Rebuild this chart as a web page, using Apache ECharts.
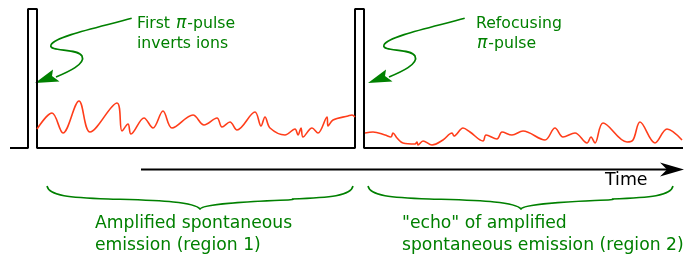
<!DOCTYPE html>
<html>
<head>
<meta charset="utf-8">
<script src="https://cdn.jsdelivr.net/npm/echarts@6/dist/echarts.min.js"></script>
<style>
  html, body { margin: 0; padding: 0; background: #fff; }
  #main { width: 699px; height: 257px; }
</style>
</head>
<body>
<div id="main"></div>
<script>
// x: time (arbitrary units), y: amplitude above the baseline
const pulseTrace = [[10,0],[28,0],[28,139],[37,139],[37,0],[355,0],[355,139],[364,139],[364,0],[683,0]];

const emission1 = [
  [37,19],[52,35],[63,15],[79,47],[90,16],[117,45],[122,17],[128,24],[131,14],[144,30],
  [153,20],[163,37],[172,20],[193,33],[204,23],[217,30],[222,21],[230,26],[237,18],[255,36],
  [261,22],[265,31],[270,20],[285,13],[295,19],[298,13],[301,20],[303,11],[312,20],[318,15],
  [327,31],[328,22],[333,28],[348,32],[352,33],[355,31]
];
const emission2 = [
  [365,15],[373,16],[385,13],[391,11],[393,15],[397,10],[403,5],[415,4],[417,6],[418,3],
  [423,7],[432,3],[443,8],[452,15],[454,12],[463,20],[470,16],[483,7],[486,13],[497,9],
  [502,16],[512,13],[523,17],[545,8],[555,20],[563,11],[575,15],[587,5],[591,11],[595,5],
  [603,25],[627,6],[633,8],[640,26],[655,5],[667,19],[682,8]
];

const timeShaft = [[141,-21.5],[672,-21.5]];
const timeHead = [[684,-21.5],[660,-14.5],[667,-21.5],[660,-28.5]];

// curly pointer: start point followed by cubic bezier triples
const pointerPath = [[131.7,129.7],[105,122],[55,112],[51,103],[48,96],[78,100],[82,92],[86,84],[68,76],[56,71]];
const pointerHead = [[35,65],[53,78.5],[52,72],[59.5,66.5]];
const pointerShift = [0, 333];

// braces: left end, tip, right end
const braces = [[47,200,353],[368,521,673]];
const braceLevels = [-38, -51, -61];

const topLabels = [
  [137, 124.5, 'First {i|π}-pulse'],
  [137, 104.5, 'inverts ions'],
  [476, 124.5, 'Refocusing'],
  [476, 104.5, '{i|π}-pulse']
];
const bottomLabels = [
  [95, -76, 'Amplified spontaneous'],
  [95, -98, 'emission (region 1)'],
  [402, -76, '"echo" of amplified'],
  [402, -98, 'spontaneous emission (region 2)']
];
const axisLabel = [[605, -32.5, 'Time']];

const GREEN = '#008000';
const RED = '#ff3d1a';
const FONT = '"DejaVu Sans", sans-serif';

const chart = echarts.init(document.getElementById('main'));

function textSeries(list, size, color) {
  return {
    type: 'custom',
    silent: true,
    data: list.map(l => [l[0], l[1]]),
    renderItem: function (params, api) {
      const p = api.coord([api.value(0), api.value(1)]);
      return {
        type: 'text',
        x: p[0], y: p[1],
        style: {
          text: list[params.dataIndex][2],
          fill: color,
          font: size + 'px ' + FONT,
          verticalAlign: 'middle',
          align: 'left',
          rich: { i: { fontStyle: 'italic', fontSize: size + 1.5, fontFamily: FONT, fill: color, padding: [0, 1, 0, 1] } }
        }
      };
    }
  };
}

chart.setOption({
  animation: false,
  grid: { left: 0, right: 0, top: 0, bottom: 0 },
  xAxis: { type: 'value', min: 0, max: 699, show: false },
  yAxis: { type: 'value', min: -109, max: 148, show: false },
  series: [
    {
      type: 'line', data: pulseTrace, showSymbol: false, silent: true,
      lineStyle: { color: '#000', width: 2 }
    },
    {
      type: 'line', data: emission1, showSymbol: false, silent: true, smooth: 0.35,
      lineStyle: { color: RED, width: 1.6 }
    },
    {
      type: 'line', data: emission2, showSymbol: false, silent: true, smooth: 0.35,
      lineStyle: { color: RED, width: 1.6 }
    },
    {
      type: 'line', data: timeShaft, showSymbol: false, silent: true,
      lineStyle: { color: '#000', width: 2 }
    },
    {
      type: 'custom', silent: true, data: [[0]],
      renderItem: function (params, api) {
        return {
          type: 'polygon',
          shape: { points: timeHead.map(p => api.coord(p)) },
          style: { fill: '#000' }
        };
      }
    },
    {
      type: 'custom', silent: true, data: pointerShift.map(s => [s]),
      renderItem: function (params, api) {
        const dx = api.value(0);
        const pts = pointerPath.map(p => api.coord([p[0] + dx, p[1]]));
        let d = 'M' + pts[0].join(',');
        for (let i = 1; i + 2 < pts.length; i += 3) {
          d += ' C' + [pts[i], pts[i + 1], pts[i + 2]].map(q => q.join(',')).join(' ');
        }
        return {
          type: 'group',
          children: [
            { type: 'path', shape: { pathData: d }, style: { stroke: GREEN, lineWidth: 1.7, fill: 'none' } },
            { type: 'polygon', shape: { points: pointerHead.map(p => api.coord([p[0] + dx, p[1]])) }, style: { fill: GREEN } }
          ]
        };
      }
    },
    {
      type: 'custom', silent: true, data: braces,
      renderItem: function (params, api) {
        const x0 = api.value(0), xm = api.value(1), x1 = api.value(2);
        const [yt, ym, yp] = braceLevels;
        const w = (xm - x0);
        const c = (x, y) => api.coord([x, y]).join(',');
        const d = 'M' + c(x0, yt) +
          ' C' + c(x0 + 2, ym + 3) + ' ' + c(x0 + w * 0.15, ym + 1.5) + ' ' + c(x0 + w * 0.4, ym) +
          ' C' + c(xm - w * 0.3, ym - 1.5) + ' ' + c(xm - 6, ym - 2) + ' ' + c(xm, yp) +
          ' C' + c(xm + 6, ym - 2) + ' ' + c(x1 - w * 0.3, ym - 1.5) + ' ' + c(x1 - w * 0.4, ym) +
          ' C' + c(x1 - w * 0.15, ym + 1.5) + ' ' + c(x1 - 2, ym + 3) + ' ' + c(x1, yt);
        return { type: 'path', shape: { pathData: d }, style: { stroke: GREEN, lineWidth: 1.5, fill: 'none' } };
      }
    },
    textSeries(topLabels, 15.7, GREEN),
    textSeries(bottomLabels, 17.2, GREEN),
    textSeries(axisLabel, 17.4, '#000')
  ]
});
</script>
</body>
</html>
